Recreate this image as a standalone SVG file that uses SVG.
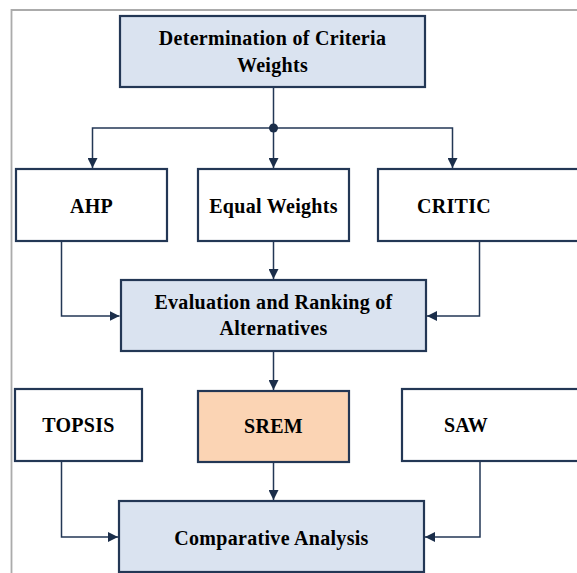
<svg xmlns="http://www.w3.org/2000/svg" width="577" height="573" viewBox="0 0 577 573">
<defs>
<style>
.box{stroke:#233755;stroke-width:2.2}
.w{fill:#ffffff}
.b{fill:#dae3f0}
.o{fill:#fbd4b4}
.t{font-family:"Liberation Serif","Times New Roman",serif;font-weight:bold;font-size:20px;fill:#000;text-anchor:middle;letter-spacing:0.3px}
.c{fill:none;stroke:#233755;stroke-width:1.5}
</style>
<marker id="ah" viewBox="0 0 10 10" refX="10" refY="5" markerWidth="10" markerHeight="10" markerUnits="userSpaceOnUse" orient="auto">
<path d="M0,0 L10,5 L0,10 Z" fill="#1b2e4a"/>
</marker>
</defs>
<rect width="577" height="573" fill="#ffffff"/>
<path d="M11.5,600 V10 H600" fill="none" stroke="#ababab" stroke-width="1.8"/>
<g id="connectors">
<line class="c" x1="273.5" y1="87" x2="273.5" y2="128"/>
<path class="c" d="M273.5,128 H92.5 V168" marker-end="url(#ah)"/>
<path class="c" d="M273.5,128 H452.5 V168" marker-end="url(#ah)"/>
<line class="c" x1="273.5" y1="128" x2="273.5" y2="168" marker-end="url(#ah)"/>
<circle cx="273.5" cy="128" r="4.5" fill="#1b2e4a"/>
<path class="c" d="M61.5,241 V316 H119.5" marker-end="url(#ah)"/>
<line class="c" x1="273.5" y1="241" x2="273.5" y2="279" marker-end="url(#ah)"/>
<path class="c" d="M479.5,241 V316 H427" marker-end="url(#ah)"/>
<line class="c" x1="273.5" y1="351" x2="273.5" y2="390" marker-end="url(#ah)"/>
<path class="c" d="M61.5,461 V537 H118" marker-end="url(#ah)"/>
<line class="c" x1="273.5" y1="462" x2="273.5" y2="500" marker-end="url(#ah)"/>
<path class="c" d="M480,461 V537 H425" marker-end="url(#ah)"/>
</g>
<g id="n-criteria"><rect class="box b" x="120" y="16" width="305" height="71"/><text class="t" x="272.5" y="45">Determination of Criteria</text><text class="t" x="272.5" y="72">Weights</text></g>
<g id="n-ahp"><rect class="box w" x="16" y="169" width="151" height="72"/><text class="t" x="91.5" y="213">AHP</text></g>
<g id="n-equal"><rect class="box w" x="198" y="169" width="151" height="72"/><text class="t" x="273.5" y="213">Equal Weights</text></g>
<g id="n-critic"><rect class="box w" x="378" y="169" width="220" height="72"/><text class="t" x="454" y="213">CRITIC</text></g>
<g id="n-eval"><rect class="box b" x="121" y="280" width="305" height="71"/><text class="t" x="273.5" y="309">Evaluation and Ranking of</text><text class="t" x="273.5" y="335">Alternatives</text></g>
<g id="n-topsis"><rect class="box w" x="15" y="389" width="127" height="72"/><text class="t" x="78.5" y="432">TOPSIS</text></g>
<g id="n-srem"><rect class="box o" x="198" y="391" width="151" height="71"/><text class="t" x="273.5" y="433">SREM</text></g>
<g id="n-saw"><rect class="box w" x="402" y="389" width="200" height="72"/><text class="t" x="466" y="432">SAW</text></g>
<g id="n-comp"><rect class="box b" x="119" y="501" width="305" height="71"/><text class="t" x="271.5" y="545">Comparative Analysis</text></g>
</svg>
